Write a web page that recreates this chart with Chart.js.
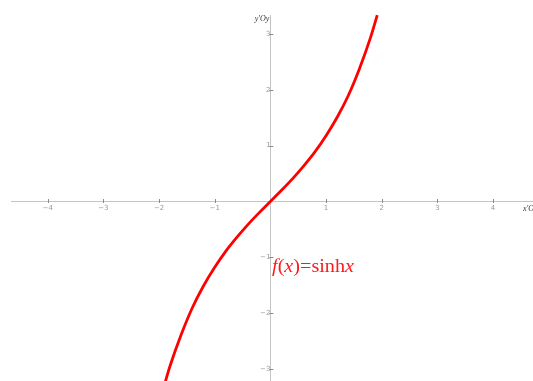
<!DOCTYPE html>
<html>
<head>
<meta charset="utf-8">
<script src="https://cdn.jsdelivr.net/npm/chart.js@4"></script>
<style>
  html, body { margin: 0; padding: 0; background: #ffffff; }
  #wrap { width: 533px; height: 381px; }
</style>
</head>
<body>
<div id="wrap"><canvas id="c" width="533" height="381"></canvas></div>
<script>
// Sample points of f(x) = sinh x
const xValues = [-1.92, -1.8, -1.6, -1.4, -1.2, -1.0, -0.8, -0.6, -0.4, -0.2, 0,
                 0.2, 0.4, 0.6, 0.8, 1.0, 1.2, 1.4, 1.6, 1.8, 1.92];
const yValues = [-3.34, -2.94, -2.38, -1.90, -1.51, -1.18, -0.89, -0.64, -0.41, -0.20, 0,
                 0.20, 0.41, 0.64, 0.89, 1.18, 1.51, 1.90, 2.38, 2.94, 3.34];

// Axis ticks and their labels
const xTickValues = [-4, -3, -2, -1, 1, 2, 3, 4];
const xTickLabels = ['\u22124', '\u22123', '\u22122', '\u22121', '1', '2', '3', '4'];
const yTickValues = [-3, -2, -1, 1, 2, 3];
const yTickLabels = ['\u22123', '\u22122', '\u22121', '1', '2', '3'];

// Axis names and curve caption
const xAxisName = "x'Ox";
const yAxisName = "y'Oy";
const captionParts = [
  { text: 'f', italic: true },
  { text: '(', italic: false },
  { text: 'x', italic: true },
  { text: ')', italic: false },
  { text: '=', italic: false },
  { text: 'sinh', italic: false },
  { text: 'x', italic: true }
];
const captionAnchor = { x: 0.03, y: -1.255 };

const points = xValues.map((x, i) => ({ x: x, y: yValues[i] }));

const axisColor = '#c4c4c4';
const tickMarkColor = '#8a8a8a';
const tickFont = { family: 'DejaVu Sans', size: 7 };

function zeroPadding(scale) {
  scale.paddingTop = 0;
  scale.paddingBottom = 0;
  scale.paddingLeft = 0;
  scale.paddingRight = 0;
}

const decorations = {
  id: 'decorations',
  afterDraw(chart) {
    const ctx = chart.ctx;
    const xs = chart.scales.x;
    const ys = chart.scales.y;
    const x0 = xs.getPixelForValue(0);
    const y0 = ys.getPixelForValue(0);
    ctx.save();

    // short tick marks across each axis
    ctx.strokeStyle = tickMarkColor;
    ctx.lineWidth = 1;
    ctx.beginPath();
    xs.ticks.forEach(t => {
      const px = Math.round(xs.getPixelForValue(t.value)) + 0.5;
      ctx.moveTo(px, y0 - 2.5);
      ctx.lineTo(px, y0 + 1.5);
    });
    ys.ticks.forEach(t => {
      const py = Math.round(ys.getPixelForValue(t.value)) + 0.5;
      ctx.moveTo(x0 - 1, py);
      ctx.lineTo(x0 + 3, py);
    });
    ctx.stroke();

    // axis names
    ctx.fillStyle = '#333333';
    ctx.font = 'italic 8px "Liberation Serif"';
    ctx.textBaseline = 'middle';
    ctx.textAlign = 'right';
    ctx.fillText(yAxisName, x0 - 1, chart.chartArea.top + 4);
    ctx.textAlign = 'left';
    ctx.fillText(xAxisName, chart.chartArea.right - 10, y0 + 7);

    // curve caption, slightly widened
    const cx = xs.getPixelForValue(captionAnchor.x);
    const cy = ys.getPixelForValue(captionAnchor.y);
    ctx.translate(cx, cy);
    ctx.scale(1.12, 1);
    ctx.fillStyle = '#ff1a1a';
    ctx.textAlign = 'left';
    ctx.textBaseline = 'alphabetic';
    let ox = 0;
    captionParts.forEach(p => {
      ctx.font = (p.italic ? 'italic ' : '') + '18px "Liberation Serif"';
      ctx.fillText(p.text, ox, 0);
      ox += ctx.measureText(p.text).width;
    });
    ctx.restore();
  }
};

new Chart(document.getElementById('c'), {
  type: 'scatter',
  data: {
    datasets: [{
      data: points,
      showLine: true,
      borderColor: '#ff0000',
      borderWidth: 2.8,
      pointRadius: 0,
      pointHoverRadius: 0,
      cubicInterpolationMode: 'monotone',
      clip: false
    }]
  },
  options: {
    responsive: false,
    animation: false,
    events: [],
    layout: { padding: { left: 11, top: 15, right: 0, bottom: 0 } },
    plugins: {
      legend: { display: false },
      tooltip: { enabled: false },
      title: { display: false }
    },
    scales: {
      x: {
        type: 'linear',
        position: { y: 0 },
        min: -4.660,
        max: 4.718,
        afterBuildTicks(axis) { axis.ticks = xTickValues.map(v => ({ value: v })); },
        afterFit: zeroPadding,
        grid: { drawOnChartArea: false, drawTicks: false },
        border: { color: axisColor, width: 1 },
        ticks: {
          padding: 2,
          color: '#999999',
          font: tickFont,
          maxRotation: 0,
          autoSkip: false,
          callback: (v, i) => xTickLabels[i]
        }
      },
      y: {
        type: 'linear',
        position: { x: 0 },
        min: -3.217,
        max: 3.342,
        afterBuildTicks(axis) { axis.ticks = yTickValues.map(v => ({ value: v })); },
        afterFit: zeroPadding,
        grid: { drawOnChartArea: false, drawTicks: false },
        border: { color: axisColor, width: 1 },
        ticks: {
          padding: 3,
          color: '#999999',
          font: tickFont,
          autoSkip: false,
          callback: (v, i) => yTickLabels[i]
        }
      }
    }
  },
  plugins: [decorations]
});
</script>
</body>
</html>
